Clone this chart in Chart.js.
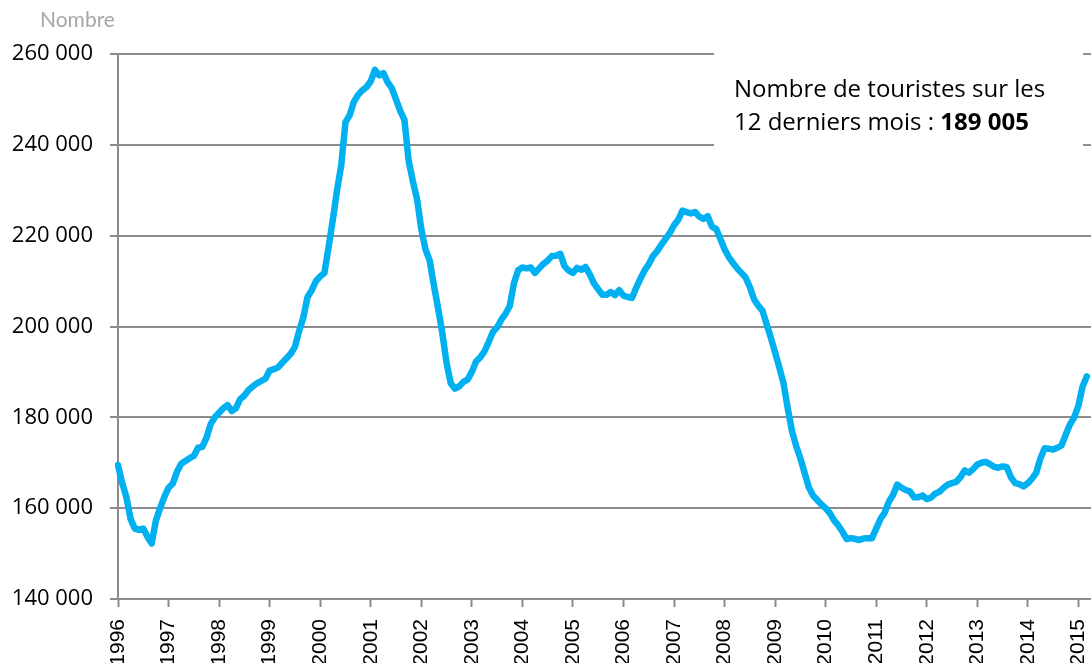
<!DOCTYPE html>
<html>
<head>
<meta charset="utf-8">
<script src="https://cdn.jsdelivr.net/npm/chart.js@4/dist/chart.umd.min.js"></script>
<style>
  html, body { margin: 0; padding: 0; background: #ffffff; }
  #c { display: block; }
</style>
</head>
<body>
<canvas id="c" width="1091" height="663"></canvas>
<script>
// Monthly values, January 1996 to March 2015 (tourists over the last 12 months)
const firstYear = 1996;
const lastYear = 2015;
const yearTicks = ["1996","1997","1998","1999","2000","2001","2002","2003","2004","2005","2006","2007","2008","2009","2010","2011","2012","2013","2014","2015"];
const touristes = [
  169500,165500,162400,157600,155500,155200,155500,153700,152200,157300,160000,162500,
  164500,165400,168000,169800,170400,171000,171500,173300,173500,175500,178500,180000,
  181000,182000,182700,181400,182000,184000,184800,186000,186800,187500,188000,188500,
  190300,190600,191000,192000,193000,194000,195500,199000,202000,206500,208000,210000,
  211000,211800,217500,223500,230000,235500,245000,246500,249500,251000,252000,252700,
  254000,256500,255300,255800,253800,252500,250000,247500,245500,236500,232000,228000,
  221500,217000,214500,209000,204000,198500,192000,187500,186300,186800,187800,188300,
  190000,192300,193200,194500,196600,198800,199800,201500,202800,204500,209500,212400,
  213000,212800,213000,211800,212800,213800,214500,215500,215600,216000,213300,212300,
  211800,212900,212500,213100,211500,209500,208200,207000,207000,207600,206900,208000,
  206800,206500,206300,208500,210500,212300,213700,215500,216600,218000,219300,220600,
  222300,223500,225500,225200,224900,225200,224200,223700,224300,222000,221500,219300,
  217000,215300,214000,212800,211800,210800,208700,206000,204600,203500,200500,197500,
  194300,191000,187500,182000,177000,173700,171000,167800,164600,162800,161800,160800,
  160000,158900,157300,156200,154800,153200,153400,153200,153000,153300,153400,153400,
  155500,157600,159000,161400,162900,165200,164500,164000,163700,162400,162400,162800,
  162000,162300,163200,163600,164500,165200,165500,165800,166800,168300,167800,168600,
  169600,170000,170200,169700,169100,168900,169200,169000,166800,165500,165300,164800,
  165500,166500,167800,171000,173200,173100,172900,173300,173800,176200,178400,180000,
  182500,186800,189005
];
const noteLine1 = "Nombre de touristes sur les";
const noteLine2 = "12 derniers mois : ";
const noteValue = "189 005";
const yTitle = "Nombre";

// month categories (one per month, up to April 2015 so the axis runs past the last value)
const months = [];
for (let y = firstYear; y <= lastYear; y++) {
  for (let m = 1; m <= 12; m++) {
    months.push(y + "-" + String(m).padStart(2, "0"));
    if (y === lastYear && m === 4) break;
  }
}

const GRID = '#8c8c8c';
const fmt = v => String(v).replace(/\B(?=(\d{3})+(?!\d))/g, ' ');

const notePlugin = {
  id: 'note',
  afterDraw(chart) {
    const ctx = chart.ctx;
    ctx.save();
    ctx.fillStyle = '#ffffff';
    ctx.fillRect(714, 42, 369, 112);
    ctx.fillStyle = '#000000';
    ctx.textBaseline = 'alphabetic';
    ctx.textAlign = 'left';
    ctx.font = '24px "Open Sans"';
    ctx.fillText(noteLine1, 734, 97);
    ctx.fillText(noteLine2, 734, 130);
    const w = ctx.measureText(noteLine2).width;
    ctx.font = 'bold 24px "Open Sans"';
    ctx.fillText(noteValue, 734 + w, 130);
    ctx.fillStyle = '#a6a6a6';
    ctx.font = '21px Lato';
    ctx.fillText(yTitle, 40, 27);
    ctx.restore();
  }
};

new Chart(document.getElementById('c'), {
  type: 'line',
  data: {
    labels: months,
    datasets: [{
      data: touristes,
      borderColor: '#00b0f0',
      borderWidth: 6.5,
      pointRadius: 0,
      tension: 0,
      borderJoinStyle: 'round',
      borderCapStyle: 'round',
      fill: false
    }]
  },
  options: {
    responsive: false,
    devicePixelRatio: 1,
    animation: false,
    layout: { padding: { top: 54, right: 0, bottom: 0, left: 0 } },
    plugins: { legend: { display: false }, tooltip: { enabled: false } },
    scales: {
      x: {
        type: 'category',
        offset: false,
        afterFit: s => { s.height = 64; s.paddingRight = 0; s.paddingLeft = 0; },
        border: { color: GRID, width: 2 },
        grid: {
          drawOnChartArea: false,
          drawTicks: true,
          tickLength: 8,
          tickWidth: 2,
          tickColor: c => (c.index % 12 === 0 ? GRID : 'rgba(0,0,0,0)')
        },
        ticks: {
          autoSkip: false,
          maxRotation: 90,
          minRotation: 90,
          padding: 12,
          color: '#000000',
          font: { family: 'Liberation Sans', size: 21 },
          callback: (v, i) => (i % 12 === 0 ? yearTicks[i / 12] : '')
        }
      },
      y: {
        min: 140000,
        max: 260000,
        afterFit: s => { s.width = 118; },
        border: { color: GRID, width: 2 },
        grid: { color: GRID, lineWidth: 2, tickLength: 8 },
        ticks: {
          stepSize: 20000,
          padding: 17,
          color: '#000000',
          font: { family: 'Open Sans', size: 22 },
          callback: v => fmt(v)
        }
      }
    }
  },
  plugins: [notePlugin]
});
</script>
</body>
</html>
